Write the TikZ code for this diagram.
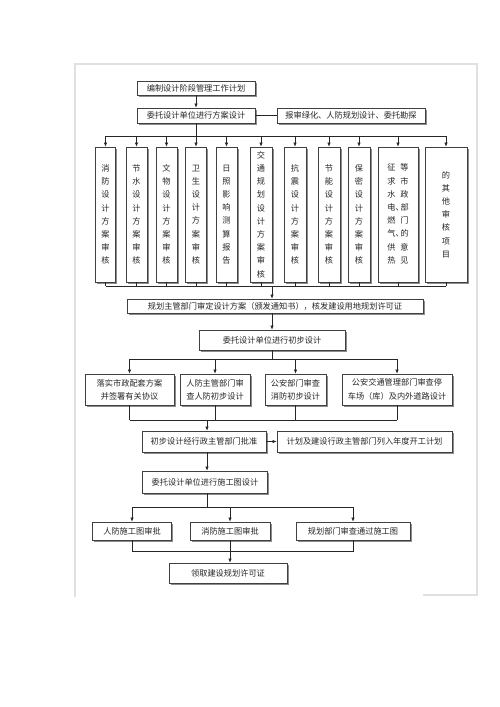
\documentclass[tikz,border=0pt]{standalone}
\usepackage{fontspec}
\setmainfont{Noto Sans CJK SC}
\usetikzlibrary{arrows.meta,shadows}
\begin{document}
\begin{tikzpicture}[x=1pt,y=-1pt,
  box/.style={draw=black!75,line width=0.7pt,fill=white,inner sep=0pt,
    drop shadow={shadow xshift=1.6pt,shadow yshift=-1.6pt,fill=black!45,opacity=1},
    font=\fontsize{8.2}{13.2}\selectfont,text=black!85,align=center},
  vbox/.style={box,minimum height=135pt},
  ln/.style={draw=black!85,line width=0.6pt},
  arr/.style={ln,-{Latex[length=4pt,width=3.4pt]}}]
\useasboundingbox (0,0) rectangle (500,707);
% faint page frame
\draw[black!12,line width=1.4pt] (75,597) -- (75,64) -- (477,64) -- (477,595) -- (423,595);

% top
\node[box,minimum width=118pt,minimum height=14pt] (b1) at (196,88) {编制设计阶段管理工作计划};
\node[box,minimum width=118pt,minimum height=15pt] (b2) at (196,115.5) {委托设计单位进行方案设计};
\node[box,minimum width=148pt,minimum height=15pt] (b3) at (351,115.5) {报审绿化、人防规划设计、委托勘探};
\draw[arr] (b1) -- (b2);
\draw[ln] (b2) -- (b3);

% vertical boxes
\node[vbox,minimum width=20pt] (v1) at (105.5,214.5) {消\\防\\设\\计\\方\\案\\审\\核};
\node[vbox,minimum width=21pt] (v2) at (136.5,214.5) {节\\水\\设\\计\\方\\案\\审\\核};
\node[vbox,minimum width=21pt] (v3) at (166.5,214.5) {文\\物\\设\\计\\方\\案\\审\\核};
\node[vbox,minimum width=21pt] (v4) at (196,214.5) {卫\\生\\设\\计\\方\\案\\审\\核};
\node[vbox,minimum width=21pt] (v5) at (226.5,214.5) {日\\照\\影\\响\\测\\算\\报\\告};
\node[vbox,minimum width=22pt] (v6) at (261,214.5) {交\\通\\规\\划\\设\\计\\方\\案\\审\\核};
\node[vbox,minimum width=22pt] (v7) at (295,214.5) {抗\\震\\设\\计\\方\\案\\审\\核};
\node[vbox,minimum width=22pt] (v8) at (329,214.5) {节\\能\\设\\计\\方\\案\\审\\核};
\node[vbox,minimum width=22pt] (v9) at (359,214.5) {保\\密\\设\\计\\方\\案\\审\\核};
\node[vbox,minimum width=40pt] (v10) at (398,214.5) {\begin{tabular}{@{}c@{\hspace{5pt}}c@{}}征&等\\求&市\\水&政\\电\rlap{、}&部\\燃&门\\气\rlap{、}&的\\供&意\\热&见\end{tabular}};
\node[vbox,minimum width=42pt] (v11) at (446,214.5) {的\\其\\他\\审\\核\\项\\目};

\coordinate (tb) at (196,136);
\coordinate (bb) at (272,286);
\draw[ln] (b2.south) -- (tb);
\draw[ln] (v1.north |- tb) -- (v11.north |- tb);
\draw[ln] (v1.south |- bb) -- (v11.south |- bb);
\foreach \v in {v1,v2,v3,v4,v5,v6,v7,v8,v9,v10,v11}{
  \draw[arr] (\v.north |- tb) -- (\v.north);
  \draw[ln] (\v.south) -- (\v.south |- bb);
}

% planning approval
\node[box,minimum width=296pt,minimum height=14pt] (p1) at (275,306) {规划主管部门审定设计方案（颁发通知书），核发建设用地规划许可证};
\node[box,minimum width=146pt,minimum height=20pt] (p2) at (272,340) {委托设计单位进行初步设计};
\draw[arr] (bb) -- (bb |- p1.north);
\draw[arr] (p1.south -| p2) -- (p2.north);

% preliminary reviews
\node[box,minimum width=89pt,minimum height=31pt] (ra) at (129.5,389.5) {落实市政配套方案\\并签署有关协议};
\node[box,minimum width=70pt,minimum height=31pt] (rb) at (215,389.5) {人防主管部门审\\查人防初步设计};
\node[box,minimum width=61pt,minimum height=31pt] (rc) at (295.5,389.5) {公安部门审查\\消防初步设计};
\node[box,minimum width=110pt,minimum height=31pt] (rd) at (397,389.5) {公安交通管理部门审查停\\车场（库）及内外道路设计};
\coordinate (mb) at (272,359);
\coordinate (lb) at (207,420);
\draw[ln] (p2.south) -- (mb);
\draw[ln] (ra.north |- mb) -- (rd.north |- mb);
\draw[ln] (ra.south |- lb) -- (rd.south |- lb);
\foreach \r in {ra,rb,rc,rd}{
  \draw[arr] (\r.north |- mb) -- (\r.north);
  \draw[ln] (\r.south) -- (\r.south |- lb);
}

% approval
\node[box,minimum width=124pt,minimum height=21pt] (q1) at (204,441.5) {初步设计经行政主管部门批准};
\node[box,minimum width=175pt,minimum height=21pt] (q2) at (364.5,441.5) {计划及建设行政主管部门列入年度开工计划};
\node[box,minimum width=125pt,minimum height=22pt] (q3) at (205,482) {委托设计单位进行施工图设计};
\draw[arr] (lb) -- (lb |- q1.north);
\draw[arr] (q1) -- (q2);
\draw[arr] (q1.south -| lb) -- (q3.north -| lb);

% construction drawings
\node[box,minimum width=79pt,minimum height=18pt] (e) at (132,531) {人防施工图审批};
\node[box,minimum width=80pt,minimum height=18pt] (f) at (230,531) {消防施工图审批};
\node[box,minimum width=114pt,minimum height=18pt] (g) at (353,531) {规划部门审查通过施工图};
\node[box,minimum width=118pt,minimum height=20pt] (h) at (228,573) {领取建设规划许可证};
\coordinate (sb) at (207,507);
\coordinate (eb) at (230,551);
\draw[ln] (q3.south -| sb) -- (sb);
\draw[ln] (e.north |- sb) -- (g.north |- sb);
\foreach \s in {e,f,g}{\draw[arr] (\s.north |- sb) -- (\s.north);}
\draw[ln] (e.south) -- (e.south |- eb) -- (g.south |- eb) -- (g.south);
\draw[arr] (f.south) -- (f.south |- h.north);
\end{tikzpicture}
\end{document}
